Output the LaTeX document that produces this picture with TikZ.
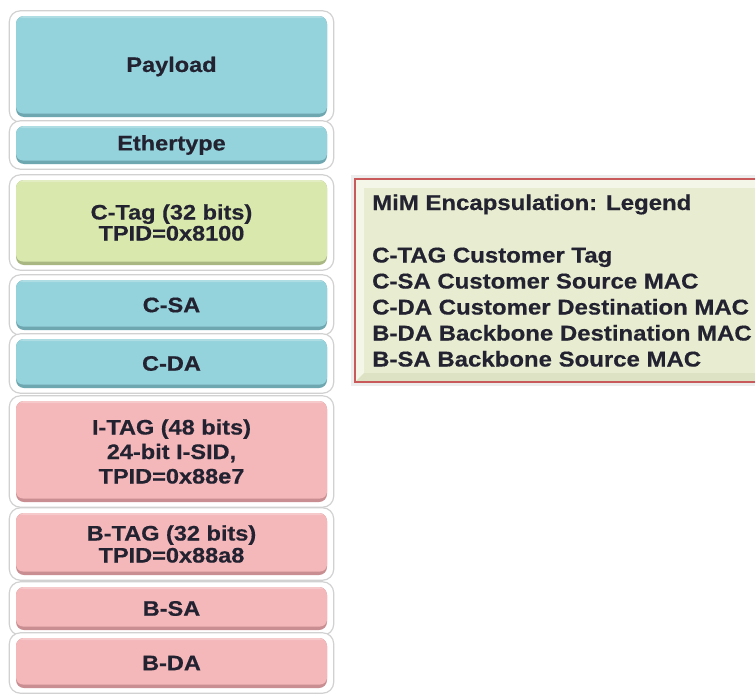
\documentclass[tikz,border=0pt]{standalone}
\usepackage{fontspec}
\setmainfont{Liberation Sans}[FakeStretch=1.12, BoldFeatures={FakeStretch=1.12, FakeBold=0.5}]
\usetikzlibrary{backgrounds}
\definecolor{bluemain}{HTML}{94D2DC}
\definecolor{bluerim}{HTML}{6FA7B1}
\definecolor{greenmain}{HTML}{D9E8AD}
\definecolor{greenrim}{HTML}{A9B883}
\definecolor{pinkmain}{HTML}{F4B7BA}
\definecolor{pinkrim}{HTML}{C88E91}
\definecolor{txt}{HTML}{222230}
\definecolor{legborder}{HTML}{C95A5C}
\definecolor{legfill}{HTML}{E8EDD1}
\definecolor{leglight}{HTML}{F4F7E8}
\definecolor{legdark}{HTML}{DCE2C3}
\newcommand\fieldfont{\fontsize{21}{21}\selectfont\bfseries}
\newcommand\legfont{\fontsize{21.4}{26}\selectfont\bfseries}
\tikzset{
  fld/.style={fill=#1rim, rounded corners=8pt, minimum width=311pt, inner sep=0pt,
    align=center, font=\fieldfont, text=txt,
    path picture={\fill[#1main, rounded corners=7pt]
      (path picture bounding box.north west) rectangle ([yshift=3.5pt]path picture bounding box.south east);
      \fill[white, opacity=0.25, rounded corners=7pt]
      (path picture bounding box.north west) rectangle ([yshift=-2pt]path picture bounding box.north east);}},
  framebox/.style={fill=white, draw=black!18, line width=1.2pt, rounded corners=11pt},
  legline/.style={anchor=base west, inner sep=0pt, font=\legfont, text=txt}
}
\begin{document}
\begin{tikzpicture}[x=1pt,y=-1pt]
\useasboundingbox (0,0) rectangle (755,696);

% field boxes
\node[fld=blue,  minimum height=101pt] (payload) at (171.5,66.5) {Payload};
\node[fld=blue,  minimum height=38pt]  (ether)   at (171.5,145) {Ethertype};
\node[fld=green, minimum height=85pt]  (ctag)    at (171.5,222.5) {C-Tag (32 bits)\\TPID=0x8100};
\node[fld=blue,  minimum height=50pt]  (csa)     at (171.5,305) {C-SA};
\node[fld=blue,  minimum height=49pt]  (cda)     at (171.5,363.5) {C-DA};
\node[fld=pink,  minimum height=101pt, font=\fontsize{21}{24.5}\selectfont\bfseries] (itag) at (171.5,451.5) {I-TAG (48 bits)\\24-bit I-SID,\\TPID=0x88e7};
\node[fld=pink,  minimum height=62pt, font=\fontsize{21}{22}\selectfont\bfseries]  (btag)    at (171.5,544) {B-TAG (32 bits)\\TPID=0x88a8};
\node[fld=pink,  minimum height=43pt]  (bsa)     at (171.5,608.5) {B-SA};
\node[fld=pink,  minimum height=50pt]  (bda)     at (171.5,663) {B-DA};

\begin{scope}[on background layer]
  \fill[white] (0,0) rectangle (755,696);
  \foreach \n in {payload,ether,ctag,csa,cda,itag,btag,bsa,bda}{
    \draw[framebox] ([shift={(-6.5pt,5pt)}]\n.north west) rectangle ([shift={(6.5pt,-5pt)}]\n.south east);
  }
\end{scope}

% legend
\fill[black!7] (351,175) rectangle (760,386);
\fill[leglight] (355,179) rectangle (760,382);
\fill[legdark] (355,382) -- (364,373) -- (760,373) -- (760,382) -- cycle;
\fill[legfill] (364,188) rectangle (760,373);
\draw[legborder, line width=2.4pt] (770,179) -- (355,179) -- (355,382) -- (770,382);

\node[legline] (legtitle) at (372,210) {MiM Encapsulation: Legend};
\node[legline] (leg1) at (372,262.5) {C-TAG Customer Tag};
\node[legline] (leg2) at (372,288.5) {C-SA Customer Source MAC};
\node[legline] (leg3) at (372,314.5) {C-DA Customer Destination MAC};
\node[legline] (leg4) at (372,340.5) {B-DA Backbone Destination MAC};
\node[legline] (leg5) at (372,366.5) {B-SA Backbone Source MAC};
\end{tikzpicture}
\end{document}
